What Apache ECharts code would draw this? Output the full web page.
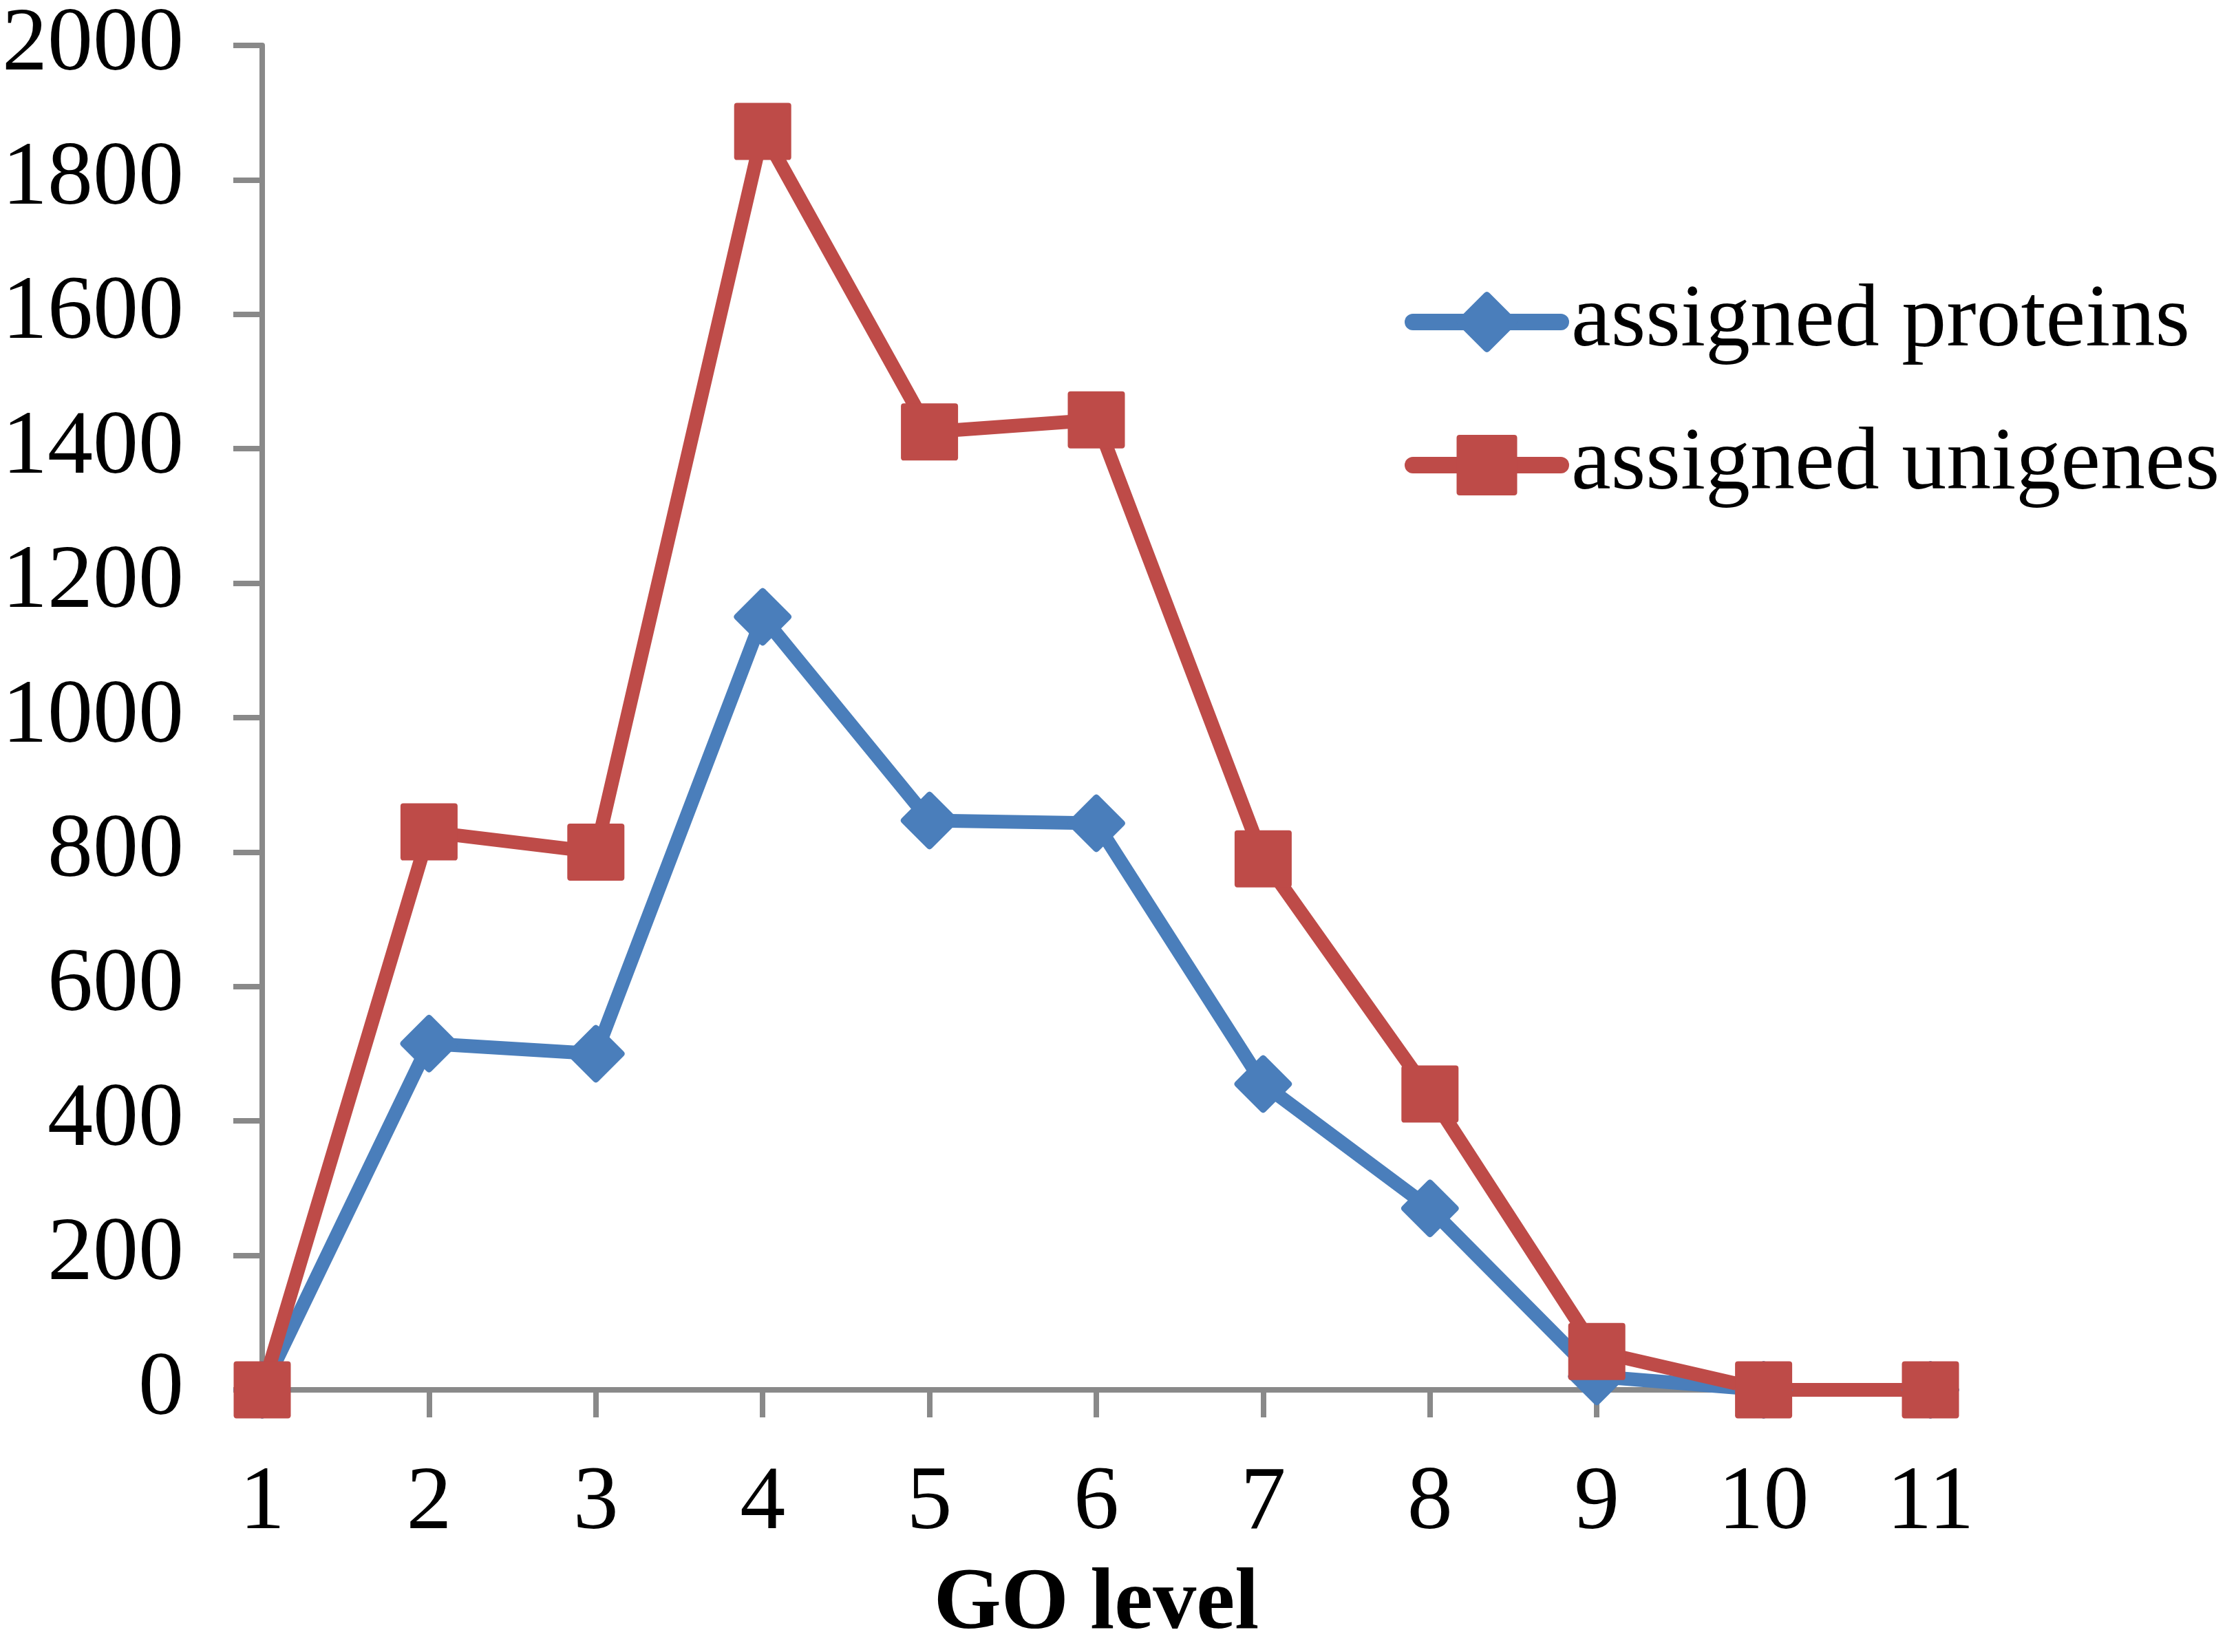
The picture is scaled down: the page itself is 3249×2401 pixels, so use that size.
<!DOCTYPE html>
<html>
<head>
<meta charset="utf-8">
<script src="https://cdn.jsdelivr.net/npm/echarts@6/dist/echarts.min.js"></script>
<style>
html, body { margin: 0; padding: 0; background: #fff; }
#main { width: 3249px; height: 2401px; }
</style>
</head>
<body>
<div id="main"></div>
<script>
// GO level data
var levels = ['1', '2', '3', '4', '5', '6', '7', '8', '9', '10', '11'];
var proteins = [0, 515, 500, 1150, 847, 843, 455, 270, 20, 0, 0];
var unigenes = [0, 830, 800, 1872, 1425, 1443, 790, 440, 57, 0, 0];
var yTicks = { min: 0, max: 2000, step: 200 };

var font = '"Liberation Serif", "Times New Roman", serif';
var axisGray = '#898989';
var colors = ['#4a7ebb', '#be4b48'];
// excel style marker: square with slightly rounded corners
var squareMark = 'path://M5,0 L95,0 Q100,0 100,5 L100,95 Q100,100 95,100 L5,100 Q0,100 0,95 L0,5 Q0,0 5,0 Z';
var diamondMark = 'path://M46,4 Q50,0 54,4 L96,46 Q100,50 96,54 L54,96 Q50,100 46,96 L4,54 Q0,50 4,46 Z';

var chart = echarts.init(document.getElementById('main'));

var option = {
    animation: false,
    color: colors,
    textStyle: { fontFamily: font },
    grid: {
        left: 381,
        right: 444,
        top: 54,
        bottom: 377
    },
    legend: {
        orient: 'vertical',
        left: 2036,
        top: 398,
        itemWidth: 215,
        itemHeight: 110,
        itemGap: 78,
        data: ['assigned proteins', 'assigned unigenes'],
        lineStyle: { width: 24, cap: 'round' },
        textStyle: { fontFamily: font, fontSize: 130, color: '#000', padding: [0, 0, 0, 10] }
    },
    xAxis: {
        type: 'category',
        boundaryGap: false,
        data: levels,
        name: 'GO level',
        nameLocation: 'middle',
        nameGap: 250,
        nameTextStyle: { fontFamily: font, fontSize: 126, fontWeight: 'bold', color: '#000' },
        axisLine: { lineStyle: { color: axisGray, width: 8 } },
        axisTick: { show: true, alignWithLabel: true, length: 40, lineStyle: { color: axisGray, width: 8 } },
        axisLabel: { fontFamily: font, fontSize: 132, color: '#000', margin: 100 },
        splitLine: { show: false }
    },
    yAxis: {
        type: 'value',
        min: yTicks.min,
        max: yTicks.max,
        interval: yTicks.step,
        axisLine: { show: true, lineStyle: { color: axisGray, width: 8 } },
        axisTick: { show: true, length: 42, lineStyle: { color: axisGray, width: 8 } },
        axisLabel: {
            fontFamily: font, fontSize: 132, color: '#000', margin: 114,
            formatter: function (v) { return String(v); }
        },
        splitLine: { show: false }
    },
    series: [{
        name: 'assigned proteins',
        type: 'line',
        data: proteins,
        symbol: diamondMark,
        symbolSize: 84,
        lineStyle: { width: 20, color: colors[0] },
        itemStyle: { color: colors[0] }
    }, {
        name: 'assigned unigenes',
        type: 'line',
        data: unigenes,
        symbol: squareMark,
        symbolSize: 83,
        lineStyle: { width: 20, color: colors[1] },
        itemStyle: { color: colors[1] }
    }]
};

chart.setOption(option);
</script>
</body>
</html>
